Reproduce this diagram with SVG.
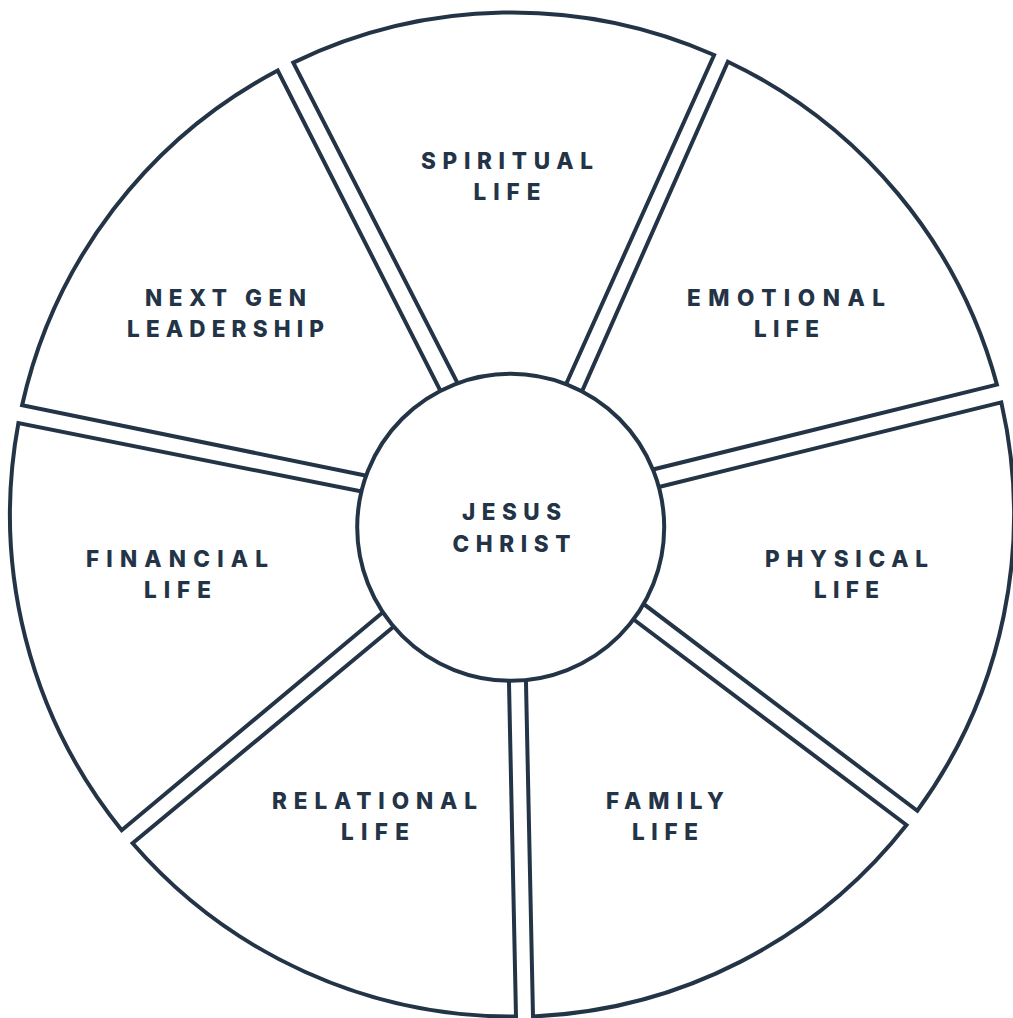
<svg xmlns="http://www.w3.org/2000/svg" width="1013" height="1018" viewBox="0 0 1013 1018">
  <style>
    .seg { fill: #ffffff; stroke: #243447; stroke-width: 4; stroke-linejoin: miter; }
    .hub { fill: #ffffff; stroke: #243447; stroke-width: 4; }
    .lbl { font-family: Inter, Lato, "Liberation Sans", sans-serif; font-weight: 800; font-size: 22.5px; fill: #243447; text-anchor: middle; }
  </style>
  <rect width="1013" height="1018" fill="#ffffff"/>

  <!-- wheel segments: each closes through the hub centre, hidden under the hub disc -->
  <g id="spiritual-life">
    <path class="seg" d="M 511 527 L 473.4 414 L 293.3 62.6 A 502 502 0 0 1 714.1 55 L 552.2 414.9 Z"/>
    <text class="lbl" x="507" y="168.5" textLength="172" lengthAdjust="spacing">SPIRITUAL</text>
    <text class="lbl" x="507" y="200" textLength="67" lengthAdjust="spacing">LIFE</text>
  </g>
  <g id="emotional-life">
    <path class="seg" d="M 511 527 L 568.4 422 L 727.9 61.7 A 502 502 0 0 1 996.9 384.6 L 620.6 477.5 Z"/>
    <text class="lbl" x="786" y="306" textLength="198" lengthAdjust="spacing">EMOTIONAL</text>
    <text class="lbl" x="786.5" y="337" textLength="65" lengthAdjust="spacing">LIFE</text>
  </g>
  <g id="physical-life">
    <path class="seg" d="M 511 527 L 624.6 495.5 L 1001.3 402.4 A 502 502 0 0 1 917.3 810.8 L 617.6 584.3 Z"/>
    <text class="lbl" x="846.5" y="566.5" textLength="163" lengthAdjust="spacing">PHYSICAL</text>
    <text class="lbl" x="846.5" y="598" textLength="65" lengthAdjust="spacing">LIFE</text>
  </g>
  <g id="family-life">
    <path class="seg" d="M 511 527 L 609.8 601.5 L 906.5 825 A 502 502 0 0 1 533 1016.4 L 525.3 649.7 Z"/>
    <text class="lbl" x="665" y="809" textLength="118" lengthAdjust="spacing">FAMILY</text>
    <text class="lbl" x="665" y="840" textLength="66" lengthAdjust="spacing">LIFE</text>
  </g>
  <g id="relational-life">
    <path class="seg" d="M 511 527 L 508.3 649.7 L 516 1016.5 A 502 502 0 0 1 132.6 843.3 L 417.9 606.5 Z"/>
    <text class="lbl" x="374.5" y="809" textLength="205" lengthAdjust="spacing">RELATIONAL</text>
    <text class="lbl" x="375" y="840" textLength="68" lengthAdjust="spacing">LIFE</text>
  </g>
  <g id="financial-life">
    <path class="seg" d="M 511 527 L 408 591.3 L 121.7 830.2 A 502 502 0 0 1 18.4 423.1 L 393.1 497.8 Z"/>
    <text class="lbl" x="177" y="566.5" textLength="182" lengthAdjust="spacing">FINANCIAL</text>
    <text class="lbl" x="177.5" y="598" textLength="67" lengthAdjust="spacing">LIFE</text>
  </g>
  <g id="next-gen-leadership">
    <path class="seg" d="M 511 527 L 397 482 L 22.1 405.3 A 502 502 0 0 1 277.7 70.5 L 456.2 421.9 Z"/>
    <text class="lbl" x="225.5" y="306" textLength="161" lengthAdjust="spacing">NEXT GEN</text>
    <text class="lbl" x="225.5" y="337" textLength="197" lengthAdjust="spacing">LEADERSHIP</text>
  </g>

  <!-- hub -->
  <g id="jesus-christ">
    <circle class="hub" cx="510.7" cy="527.3" r="153.5"/>
    <text class="lbl" x="511.5" y="519.5" textLength="99" lengthAdjust="spacing">JESUS</text>
    <text class="lbl" x="511.5" y="551.5" textLength="118" lengthAdjust="spacing">CHRIST</text>
  </g>
</svg>
